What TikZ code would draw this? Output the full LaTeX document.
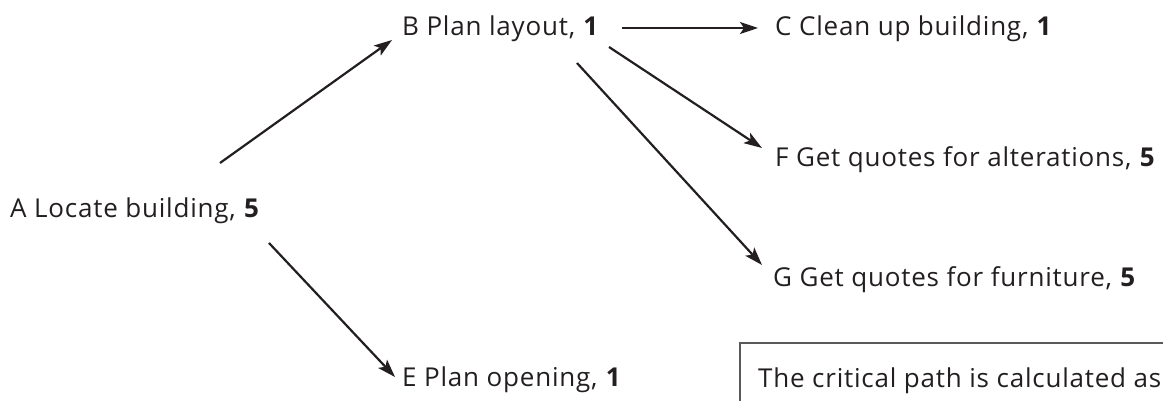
\documentclass[tikz,border=0pt]{standalone}
\usepackage{fontspec}
\setmainfont[LetterSpace=3]{Open Sans}
\usetikzlibrary{arrows.meta}
\definecolor{ink}{HTML}{231F20}
\definecolor{boxline}{HTML}{5A5A5A}
\tikzset{
  lbl/.style={anchor=base west, inner sep=0pt, text=ink, font=\fontsize{26}{30}\selectfont},
  arr/.style={draw=ink, line width=2.2pt, -{Stealth[length=18pt,width=12pt,inset=4pt]}}
}
\begin{document}
\begin{tikzpicture}[x=1pt,y=1pt]
\useasboundingbox (0,0) rectangle (1163,401);
\clip (0,0) rectangle (1163,401);
\node[lbl] (A) at (10,183) {A Locate building, \textbf{5}};
\node[lbl] (B) at (402,365) {B Plan layout, \textbf{1}};
\node[lbl] (C) at (775,365) {C Clean up building, \textbf{1}};
\node[lbl] (F) at (775,234) {F Get quotes for alterations, \textbf{5}};
\node[lbl] (G) at (773,114) {G Get quotes for furniture, \textbf{5}};
\node[lbl] (E) at (402,14) {E Plan opening, \textbf{1}};
\draw[boxline, line width=1.5pt] (740,-40) -- (740,58) -- (1200,58);
\node[lbl] (T) at (758,13) {The critical path is calculated as};
\draw[arr] ([shift={(210pt,55pt)}]A.base west) -- ([shift={(-10pt,-4pt)}]B.base west);
\draw[arr] ([shift={(259pt,-25pt)}]A.base west) -- ([shift={(-7pt,10pt)}]E.base west);
\draw[arr] ([shift={(220pt,8pt)}]B.base west) -- ([shift={(-17pt,8pt)}]C.base west);
\draw[arr] ([shift={(207pt,-11pt)}]B.base west) -- ([shift={(-13pt,19pt)}]F.base west);
\draw[arr] ([shift={(175pt,-27pt)}]B.base west) -- ([shift={(-11pt,22pt)}]G.base west);
\end{tikzpicture}
\end{document}
